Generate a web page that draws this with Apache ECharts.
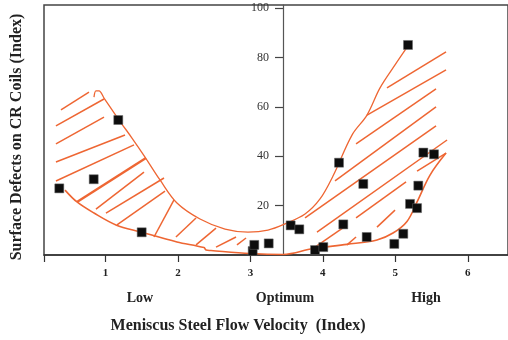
<!DOCTYPE html>
<html>
<head>
<meta charset="utf-8">
<script src="https://cdn.jsdelivr.net/npm/echarts@6/dist/echarts.min.js"></script>
<style>html,body{margin:0;padding:0;background:#fff;}#c{width:508px;height:340px;}</style>
</head>
<body>
<div id="c"></div>
<script>
// ---- data (index units) ----
const xTicks = [1, 2, 3, 4, 5, 6];
const yTicks = [20, 40, 60, 80, 100];
const regionLabels = ['Low', 'Optimum', 'High'];

const pointsX = [0.363, 0.838, 1.177, 1.500, 3.032, 3.054, 3.253, 3.556, 3.675, 3.892, 4.006, 4.223, 4.282, 4.558, 4.605, 4.986, 5.110, 5.175, 5.203, 5.300, 5.317, 5.387, 5.534];
const pointsY = [27.0, 30.7, 54.7, 9.2, 1.6, 4.1, 4.7, 12.0, 10.4, 2.0, 3.2, 37.4, 12.4, 28.8, 7.3, 4.5, 8.6, 85.1, 20.7, 19.0, 28.1, 41.5, 40.8];

const upperX = [0.842, 0.869, 0.911, 0.980, 1.187, 1.366, 1.546, 1.753, 1.987, 2.305, 2.650, 2.967, 3.243, 3.478, 3.754, 3.961, 4.140, 4.402, 4.609, 4.789, 4.996, 5.175];
const upperY = [64.0, 66.5, 66.5, 63.6, 54.7, 47.4, 39.7, 30.4, 21.1, 14.6, 10.5, 9.3, 10.1, 12.6, 16.6, 22.7, 32.0, 48.6, 56.7, 67.7, 77.0, 84.7];

const lowerX = [0.442, 0.607, 0.842, 1.145, 1.490, 1.987, 2.360, 2.388, 2.457, 2.995, 3.450, 3.864, 4.333, 4.747, 4.968, 5.161, 5.300, 5.479, 5.700];
const lowerY = [26.3, 21.5, 17.0, 12.2, 9.3, 5.3, 3.0, 2.0, 1.8, 0.6, 0.2, 2.6, 4.3, 6.1, 8.9, 13.6, 21.5, 32.4, 41.3];

// hatch strokes: [x1, y1, x2, y2]
const leftHatches = [
  [0.386, 58.8, 0.773, 66.0],
  [0.317, 52.3, 0.980, 63.2],
  [0.317, 45.0, 0.980, 55.9],
  [0.317, 37.7, 1.270, 48.6],
  [0.317, 30.0, 1.394, 44.6],
  [0.607, 21.5, 1.559, 39.3],
  [0.869, 18.6, 1.532, 33.6],
  [1.007, 17.0, 1.808, 31.2],
  [1.159, 12.2, 1.822, 25.9],
  [1.670, 7.3, 1.946, 22.3],
  [1.973, 7.3, 2.250, 15.0],
  [2.250, 4.1, 2.526, 10.9],
  [2.526, 3.2, 2.802, 7.3],
  [2.815, 4.1, 2.940, 6.9]
];
const rightHatches = [
  [4.885, 67.7, 5.700, 82.3],
  [4.609, 56.7, 5.700, 75.0],
  [4.458, 45.0, 5.562, 67.3],
  [4.168, 30.0, 5.562, 60.0],
  [3.754, 15.0, 5.562, 52.3],
  [3.919, 9.3, 5.714, 46.6],
  [5.300, 34.0, 5.700, 41.3],
  [3.892, 3.2, 4.292, 11.3],
  [4.458, 15.0, 5.148, 29.6],
  [4.747, 11.3, 4.996, 18.2],
  [4.333, 4.1, 4.458, 7.3]
];

// ---- chart ----
const ORANGE = '#EE6633';
const SERIF = "'Liberation Serif','Times New Roman',serif";
const chart = echarts.init(document.getElementById('c'), null, {renderer: 'canvas'});

const zip = (xs, ys) => xs.map((x, i) => [x, ys[i]]);
const hatchData = leftHatches.concat(rightHatches).map((h, i) => ({
  coords: [[h[0], h[1]], [h[2], h[3]]],
  lineStyle: {width: i === 5 ? 2.4 : 1.5}
}));

chart.setOption({
  animation: false,
  backgroundColor: '#fff',
  grid: {left: 44, right: 0, top: 5, bottom: 85, show: true, borderColor: '#444', borderWidth: 1.5},
  xAxis: {
    type: 'value', min: 0.152, max: 6.555,
    axisLine: {show: true, lineStyle: {color: '#333', width: 1.5}},
    axisTick: {show: true, customValues: [0.152].concat(xTicks), length: 7, lineStyle: {color: '#333', width: 1.2}},
    axisLabel: {customValues: xTicks, margin: 13, fontFamily: SERIF, fontWeight: 'bold', fontSize: 11, color: '#222'},
    splitLine: {show: false}
  },
  yAxis: [
    {type: 'value', min: 0, max: 101.3, axisLine: {show: false}, axisTick: {show: false}, axisLabel: {show: false}, splitLine: {show: false}},
    {type: 'value', min: 0, max: 101.3, position: 'left', offset: -239,
     axisLine: {show: true, lineStyle: {color: '#555', width: 1.2}},
     axisTick: {show: true, customValues: yTicks, length: 8, lineStyle: {color: '#444', width: 1.2}},
     axisLabel: {customValues: yTicks, margin: 14, fontFamily: SERIF, fontSize: 12, color: '#333'},
     splitLine: {show: false}}
  ],
  series: [
    {type: 'line', data: zip(upperX, upperY), smooth: 0.35, symbol: 'none',
     lineStyle: {color: ORANGE, width: 1.3}, z: 2},
    {type: 'line', data: zip(lowerX, lowerY), smooth: 0.35, symbol: 'none',
     lineStyle: {color: ORANGE, width: 1.6}, z: 2},
    {type: 'lines', coordinateSystem: 'cartesian2d', data: hatchData,
     lineStyle: {color: ORANGE, width: 1.5, opacity: 1}, z: 2},
    {type: 'scatter', data: zip(pointsX, pointsY), symbol: 'rect', symbolSize: 9,
     itemStyle: {color: '#0d0d0d', opacity: 1, borderColor: '#666', borderWidth: 0.5}, z: 5}
  ],
  graphic: [
    {type: 'text', style: {text: regionLabels[0], x: 140, y: 298, font: "bold 14px " + SERIF, fill: '#222', align: 'center', verticalAlign: 'middle'}},
    {type: 'text', style: {text: regionLabels[1], x: 285, y: 298, font: "bold 14px " + SERIF, fill: '#222', align: 'center', verticalAlign: 'middle'}},
    {type: 'text', style: {text: regionLabels[2], x: 426, y: 298, font: "bold 14px " + SERIF, fill: '#222', align: 'center', verticalAlign: 'middle'}},
    {type: 'text', style: {text: 'Meniscus Steel Flow Velocity  (Index)', x: 238, y: 326, font: "bold 16px " + SERIF, fill: '#222', align: 'center', verticalAlign: 'middle'}},
    {type: 'text', x: 17, y: 137, rotation: Math.PI / 2, style: {text: 'Surface Defects on CR Coils (Index)', x: 0, y: 0, font: "bold 16px " + SERIF, fill: '#222', align: 'center', verticalAlign: 'middle'}}
  ]
});
</script>
</body>
</html>
